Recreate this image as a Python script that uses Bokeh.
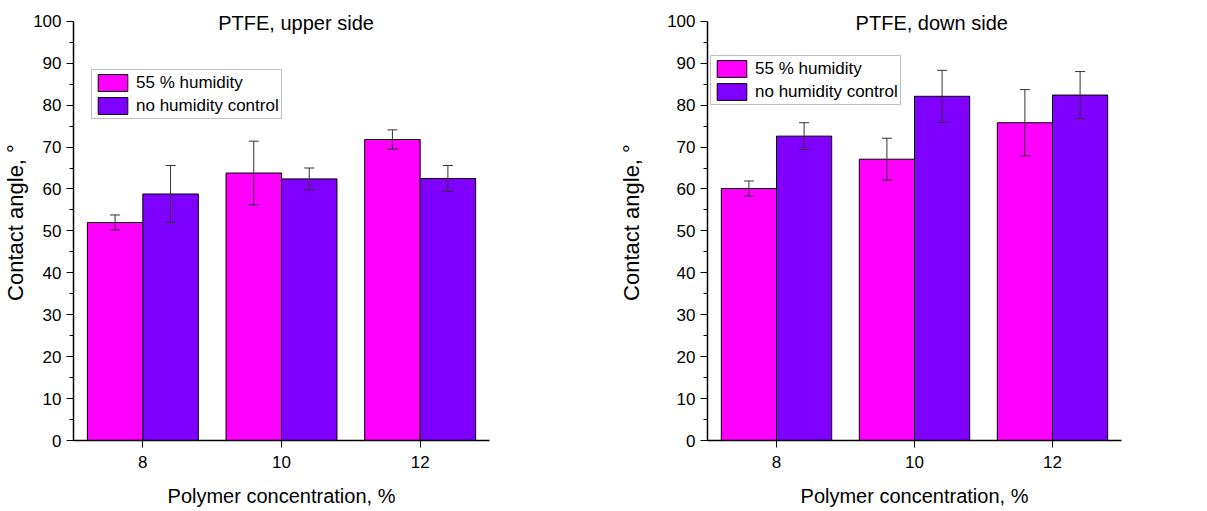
from bokeh.plotting import figure
from bokeh.layouts import row
from bokeh.models import ColumnDataSource, Whisker, TeeHead, Label, Legend, LegendItem, FixedTicker, Range1d
from bokeh.transform import dodge
from bokeh.embed import file_html
from bokeh.resources import INLINE

concentration = [8, 10, 12]
series_names = ["55 % humidity", "no humidity control"]

upper_55 = [52.0, 63.8, 71.8]
upper_55_err = [1.8, 7.6, 2.3]
upper_noctrl = [58.8, 62.4, 62.5]
upper_noctrl_err = [6.8, 2.6, 3.1]

down_55 = [60.1, 67.1, 75.8]
down_55_err = [1.8, 5.0, 7.9]
down_noctrl = [72.6, 82.1, 82.4]
down_noctrl_err = [3.2, 6.2, 5.6]

y_ticks = [0, 10, 20, 30, 40, 50, 60, 70, 80, 90, 100]
y_minor = [5, 15, 25, 35, 45, 55, 65, 75, 85, 95]

MAGENTA = "#FF00FF"
PURPLE = "#8000FF"
FONT = "Liberation Sans"


def make_panel(title, v1, e1, v2, e2, width, bl, br, title_x, ylab_standoff, legend_loc):
    # y range extends a little above 100 so the in-plot title is not clipped;
    # the axis itself is bounded to 0..100
    p = figure(width=width, height=511, output_backend="svg", toolbar_location=None,
               x_range=Range1d(7, 13), y_range=Range1d(0, 104),
               min_border_left=bl, min_border_right=br, min_border_top=4, min_border_bottom=71)
    p.outline_line_color = None
    p.xgrid.visible = False
    p.ygrid.visible = False
    p.background_fill_color = "white"
    p.border_fill_color = "white"

    src = ColumnDataSource(dict(
        x=concentration, v1=v1, v2=v2,
        lo1=[a - b for a, b in zip(v1, e1)], hi1=[a + b for a, b in zip(v1, e1)],
        lo2=[a - b for a, b in zip(v2, e2)], hi2=[a + b for a, b in zip(v2, e2)],
    ))
    r1 = p.vbar(x=dodge("x", -0.4, range=p.x_range), top="v1", width=0.8, bottom=0, source=src,
                fill_color=MAGENTA, line_color="black", line_width=1)
    r2 = p.vbar(x=dodge("x", 0.4, range=p.x_range), top="v2", width=0.8, bottom=0, source=src,
                fill_color=PURPLE, line_color="black", line_width=1)

    for col, lo, hi in ((-0.4, "lo1", "hi1"), (0.4, "lo2", "hi2")):
        w = Whisker(base=dodge("x", col, range=p.x_range), lower=lo, upper=hi, source=src,
                    line_color="#333333", line_width=1, level="overlay",
                    upper_head=TeeHead(size=10, line_color="#333333", line_width=1),
                    lower_head=TeeHead(size=10, line_color="#333333", line_width=1))
        p.add_layout(w)

    legend = Legend(items=[LegendItem(label=series_names[0], renderers=[r1]),
                           LegendItem(label=series_names[1], renderers=[r2])],
                    location=legend_loc, orientation="vertical",
                    glyph_width=37, glyph_height=21, label_height=21, label_standoff=5,
                    padding=2, spacing=2, margin=0,
                    label_text_font=FONT, label_text_font_size="17px", label_text_color="black",
                    border_line_color="#808080", border_line_width=1,
                    background_fill_color="white", background_fill_alpha=1.0)
    p.add_layout(legend)

    p.add_layout(Label(x=title_x, y=99.6, text=title, text_align="center", text_baseline="middle",
                       text_font=FONT, text_font_size="20px", text_color="black"))

    yax = p.yaxis[0]
    yax.bounds = (0, 100)
    yax.ticker = FixedTicker(ticks=y_ticks, minor_ticks=y_minor)
    yax.axis_label = "Contact angle, °"
    yax.axis_label_text_font = FONT
    yax.axis_label_text_font_size = "22px"
    yax.axis_label_text_font_style = "normal"
    yax.axis_label_text_color = "black"
    yax.axis_label_standoff = ylab_standoff
    yax.major_label_text_font = FONT
    yax.major_label_text_font_size = "17px"
    yax.major_label_text_color = "black"
    yax.major_label_standoff = 5
    yax.major_tick_in = 0
    yax.major_tick_out = 7
    yax.minor_tick_in = 0
    yax.minor_tick_out = 4
    yax.axis_line_width = 1.5
    yax.axis_line_color = "black"
    yax.major_tick_line_color = "black"
    yax.minor_tick_line_color = "black"

    xax = p.xaxis[0]
    xax.ticker = FixedTicker(ticks=concentration, minor_ticks=[])
    xax.axis_label = "Polymer concentration, %"
    xax.axis_label_text_font = FONT
    xax.axis_label_text_font_size = "20px"
    xax.axis_label_text_font_style = "normal"
    xax.axis_label_text_color = "black"
    xax.axis_label_standoff = 14
    xax.major_label_text_font = FONT
    xax.major_label_text_font_size = "17px"
    xax.major_label_text_color = "black"
    xax.major_label_standoff = 8
    xax.major_tick_in = 0
    xax.major_tick_out = 7
    xax.minor_tick_line_color = None
    xax.axis_line_width = 1.5
    xax.axis_line_color = "black"
    xax.major_tick_line_color = "black"
    return p


left = make_panel("PTFE, upper side", upper_55, upper_55_err, upper_noctrl, upper_noctrl_err,
                  width=600, bl=71, br=111, title_x=10.21, ylab_standoff=2, legend_loc=(18, 321))
right = make_panel("PTFE, down side", down_55, down_55_err, down_noctrl, down_noctrl_err,
                   width=607, bl=107, br=86, title_x=10.25, ylab_standoff=20, legend_loc=(3, 335))

layout = row(left, right)
open("out.html", "w").write(file_html(layout, INLINE))
